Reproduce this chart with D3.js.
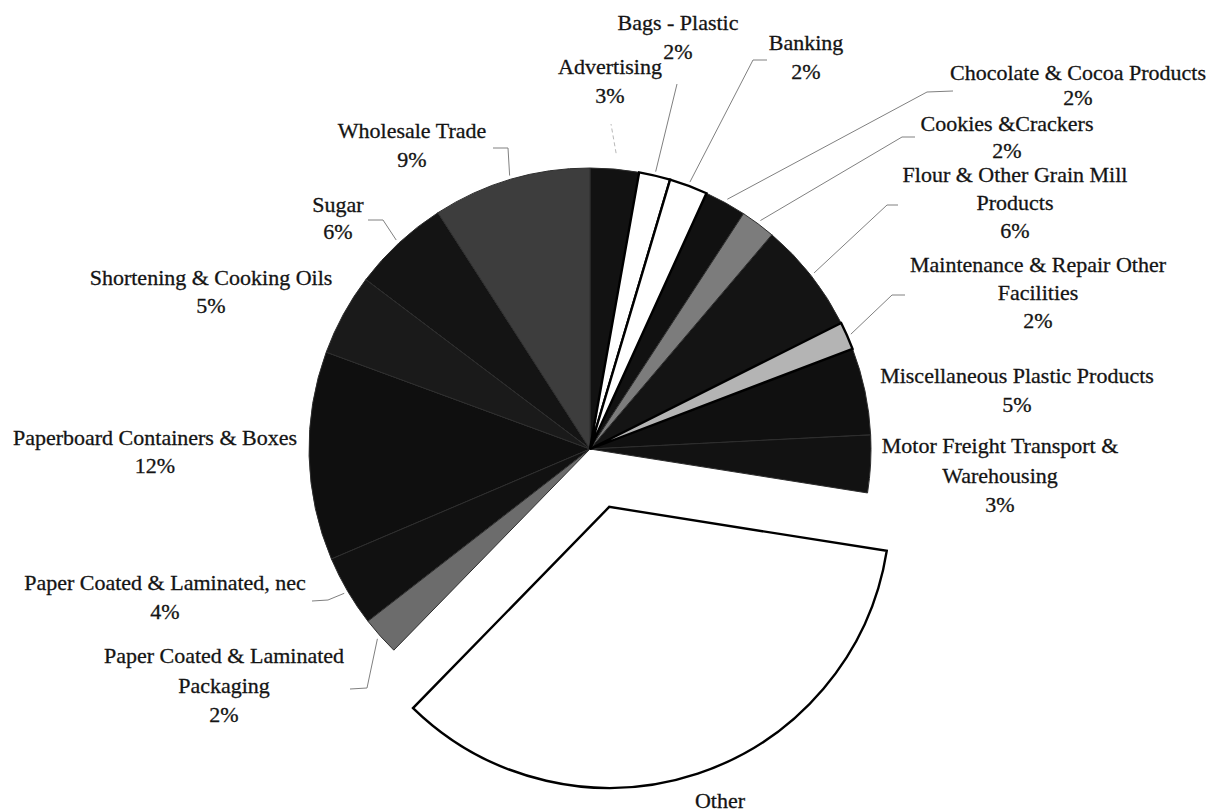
<!DOCTYPE html>
<html>
<head>
<meta charset="utf-8">
<script src="https://cdn.jsdelivr.net/npm/d3@7"></script>
<style>
  body { margin: 0; background: #ffffff; }
  text { font-family: "Liberation Serif", "Times New Roman", serif; font-size: 22px; fill: #141414; stroke: #141414; stroke-width: 0.3px; }
</style>
</head>
<body>
<svg id="chart" width="1224" height="812"></svg>
<script>
// ---------- data ----------
const categories = [
  "Advertising",
  "Bags - Plastic",
  "Banking",
  "Chocolate & Cocoa Products",
  "Cookies &Crackers",
  "Flour & Other Grain Mill|Products",
  "Maintenance & Repair Other|Facilities",
  "Miscellaneous Plastic Products",
  "Motor Freight Transport &|Warehousing",
  "Other",
  "Paper Coated & Laminated|Packaging",
  "Paper Coated & Laminated, nec",
  "Paperboard Containers & Boxes",
  "Shortening & Cooking Oils",
  "Sugar",
  "Wholesale Trade"
];
const shares = [2.8, 1.8, 2.2, 2.4, 2.0, 6.4, 1.6, 5.0, 3.3, 34.8, 2.2, 4.1, 12.0, 4.7, 5.6, 9.1];

// ---------- styling / layout ----------
const fills = ["#121212", "#ffffff", "#ffffff", "#111111", "#7c7c7c", "#141414", "#b4b4b4", "#101010",
               "#121212", "#ffffff", "#6c6c6c", "#111111", "#0f0f0f", "#1a1a1a", "#141414", "#3d3d3d"];
// label anchor: [center x, first baseline y, line gap]
const labelPos = [
  [610, 74, 28.5], [678, 30, 28.5], [806, 50, 28.5], [1078, 80, 25], [1007, 131, 27], [1015, 182, 28],
  [1038, 272, 28], [1017, 383, 28.5], [1000, 453, 29.5], [720, 808, 28.5], [224, 663, 29.5],
  [165, 590, 29], [155, 445, 28], [211, 285, 28], [338, 212, 27], [412, 138, 29]
];
// leader line bends (after the point on the pie edge); null = no leader
const leaders = [
  [[611, 124]], [[677, 84]], [[753, 60], [767, 60]], [[927, 92], [953, 91]], [[902, 137], [915, 137]],
  [[887, 205], [898, 205]], [[892, 295], [905, 295]], null, null, null,
  [[367, 688], [350, 689]], [[328, 600], [312, 601]], null, null, [[383, 220], [368, 220]], [[508, 148], [493, 148]]
];
const W = 1224, H = 812;
const cx = 590, cy = 449, R = 281;
const explodeIndex = 9, explodeDist = 61;

const svg = d3.select("#chart");
const pieData = d3.pie().sort(null).value(d => d)(shares);
const arc = d3.arc().innerRadius(0).outerRadius(R);
const mid = d => (d.startAngle + d.endAngle) / 2;
const lum = c => d3.hsl(c).l;

const g = svg.append("g").attr("transform", `translate(${cx},${cy})`);
const order = pieData.map((d, i) => i).sort((a, b) => lum(fills[a]) - lum(fills[b]));
g.selectAll("path.slice")
  .data(order.map(i => pieData[i]))
  .join("path")
  .attr("class", "slice")
  .attr("d", arc)
  .attr("transform", d => d.index === explodeIndex
      ? `translate(${Math.sin(mid(d)) * explodeDist},${-Math.cos(mid(d)) * explodeDist})` : null)
  .attr("fill", d => fills[d.index])
  .attr("stroke", d => lum(fills[d.index]) > 0.6 ? "#000" : "#2e2e2e")
  .attr("stroke-width", d => lum(fills[d.index]) > 0.6 ? 2.4 : 1)
  .attr("stroke-linejoin", "miter");

// leader lines
pieData.forEach((d, i) => {
  if (!leaders[i]) return;
  const r0 = i === 0 ? R + 16 : R + 4;
  const start = [cx + Math.sin(mid(d)) * r0, cy - Math.cos(mid(d)) * r0];
  const pts = [start].concat(leaders[i]);
  svg.append("path")
    .attr("d", d3.line()(pts))
    .attr("fill", "none")
    .attr("stroke", i === 0 ? "#b8b8b8" : "#808080")
    .attr("stroke-width", 1)
    .attr("stroke-dasharray", i === 0 ? "4,3" : null);
});

// labels
pieData.forEach((d, i) => {
  const lines = categories[i].split("|").concat([Math.round(shares[i]) + "%"]);
  const [x, y, gap] = labelPos[i];
  const t = svg.append("text").attr("text-anchor", "middle");
  lines.forEach((ln, k) => {
    const yy = y + k * gap;
    if (yy > H) return;
    t.append("tspan").attr("x", x).attr("y", yy).text(ln);
  });
});
</script>
</body>
</html>
